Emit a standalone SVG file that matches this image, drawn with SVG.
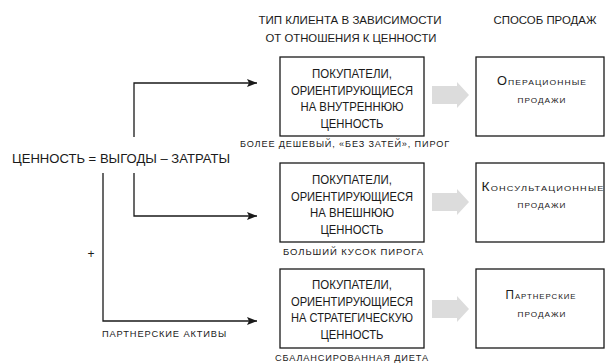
<svg xmlns="http://www.w3.org/2000/svg" width="606" height="364" viewBox="0 0 606 364">
<defs>
<style>
text{font-family:"Liberation Sans",Arial,sans-serif;fill:#1a1a1a}
.box{fill:#fff;stroke:#1a1a1a;stroke-width:1.3}
.bt{font-size:12px;text-anchor:middle}
.hd{font-size:11px;text-anchor:middle}
.sc{font-size:12px;font-variant:small-caps;letter-spacing:1px;text-anchor:middle}
.lb{font-size:8.5px;letter-spacing:0.8px}
.ln{fill:none;stroke:#1a1a1a;stroke-width:1.3}
.ga{fill:#dcdcdc}
</style>
<marker id="ah" viewBox="0 0 10 8" refX="10" refY="4" markerWidth="10" markerHeight="8" markerUnits="userSpaceOnUse" orient="auto">
<path d="M0,0 L10,4 L0,8 L2,4 Z" fill="#1a1a1a"/>
</marker>
<path id="garrow" d="M0,-9 H25 V-13 L37,0 L25,13 V9 H0 Z"/>
</defs>
<rect width="606" height="364" fill="#fff"/>

<g id="headers">
<text class="hd" x="350" y="24" textLength="183" lengthAdjust="spacingAndGlyphs">ТИП КЛИЕНТА В ЗАВИСИМОСТИ</text>
<text class="hd" x="351" y="42" textLength="171" lengthAdjust="spacingAndGlyphs">ОТ ОТНОШЕНИЯ К ЦЕННОСТИ</text>
<text class="hd" x="545" y="24" textLength="103" lengthAdjust="spacingAndGlyphs">СПОСОБ ПРОДАЖ</text>
</g>

<g id="value">
<text x="12" y="163" font-size="13" textLength="218" lengthAdjust="spacingAndGlyphs">ЦЕННОСТЬ = ВЫГОДЫ – ЗАТРАТЫ</text>
</g>

<g id="connectors">
<path class="ln" d="M134,137 V83 H257" marker-end="url(#ah)"/>
<path class="ln" d="M134,173 V216 H257" marker-end="url(#ah)"/>
<path class="ln" d="M103,173 V321 H257" marker-end="url(#ah)"/>
<use href="#garrow" class="ga" x="432" y="95"/>
<use href="#garrow" class="ga" x="432" y="202"/>
<use href="#garrow" class="ga" x="432" y="309"/>
</g>

<g id="plus">
<text x="91" y="258" font-size="12" text-anchor="middle">+</text>
</g>
<g id="partner-assets">
<text class="lb" x="102" y="337" textLength="125" lengthAdjust="spacingAndGlyphs">ПАРТНЕРСКИЕ АКТИВЫ</text>
</g>

<g id="customer1">
<rect class="box" x="280" y="57" width="144" height="79"/>
<text class="bt" x="352" y="78" textLength="80" lengthAdjust="spacingAndGlyphs">ПОКУПАТЕЛИ,</text>
<text class="bt" x="352" y="94.5" textLength="122" lengthAdjust="spacingAndGlyphs">ОРИЕНТИРУЮЩИЕСЯ</text>
<text class="bt" x="352" y="111" textLength="103" lengthAdjust="spacingAndGlyphs">НА ВНУТРЕННЮЮ</text>
<text class="bt" x="352" y="127.5" textLength="63" lengthAdjust="spacingAndGlyphs">ЦЕННОСТЬ</text>
<text class="lb" x="240" y="147" textLength="210" lengthAdjust="spacingAndGlyphs">БОЛЕЕ ДЕШЕВЫЙ, «БЕЗ ЗАТЕЙ», ПИРОГ</text>
</g>

<g id="customer2">
<rect class="box" x="280" y="163" width="144" height="79"/>
<text class="bt" x="352" y="184" textLength="80" lengthAdjust="spacingAndGlyphs">ПОКУПАТЕЛИ,</text>
<text class="bt" x="352" y="200.5" textLength="122" lengthAdjust="spacingAndGlyphs">ОРИЕНТИРУЮЩИЕСЯ</text>
<text class="bt" x="352" y="217" textLength="84" lengthAdjust="spacingAndGlyphs">НА ВНЕШНЮЮ</text>
<text class="bt" x="352" y="233.5" textLength="63" lengthAdjust="spacingAndGlyphs">ЦЕННОСТЬ</text>
<text class="lb" x="283" y="255" textLength="141" lengthAdjust="spacingAndGlyphs">БОЛЬШИЙ КУСОК ПИРОГА</text>
</g>

<g id="customer3">
<rect class="box" x="280" y="269" width="144" height="79"/>
<text class="bt" x="352" y="289" textLength="80" lengthAdjust="spacingAndGlyphs">ПОКУПАТЕЛИ,</text>
<text class="bt" x="352" y="305.5" textLength="122" lengthAdjust="spacingAndGlyphs">ОРИЕНТИРУЮЩИЕСЯ</text>
<text class="bt" x="352" y="322" textLength="122" lengthAdjust="spacingAndGlyphs">НА СТРАТЕГИЧЕСКУЮ</text>
<text class="bt" x="352" y="338.5" textLength="63" lengthAdjust="spacingAndGlyphs">ЦЕННОСТЬ</text>
<text class="lb" x="275" y="361" textLength="154" lengthAdjust="spacingAndGlyphs">СБАЛАНСИРОВАННАЯ ДИЕТА</text>
</g>

<g id="sales1">
<rect class="box" x="476" y="57" width="128" height="79"/>
<text class="sc" x="542" y="85" textLength="90" lengthAdjust="spacingAndGlyphs">Операционные</text>
<text class="sc" x="542" y="103" textLength="49" lengthAdjust="spacingAndGlyphs">продажи</text>
</g>

<g id="sales2">
<rect class="box" x="476" y="163" width="128" height="79"/>
<text class="sc" x="543" y="191" textLength="123" lengthAdjust="spacingAndGlyphs">Консультационные</text>
<text class="sc" x="542" y="208" textLength="49" lengthAdjust="spacingAndGlyphs">продажи</text>
</g>

<g id="sales3">
<rect class="box" x="476" y="269" width="128" height="79"/>
<text class="sc" x="541" y="299" textLength="71" lengthAdjust="spacingAndGlyphs">Партнерские</text>
<text class="sc" x="542" y="317" textLength="49" lengthAdjust="spacingAndGlyphs">продажи</text>
</g>
</svg>
